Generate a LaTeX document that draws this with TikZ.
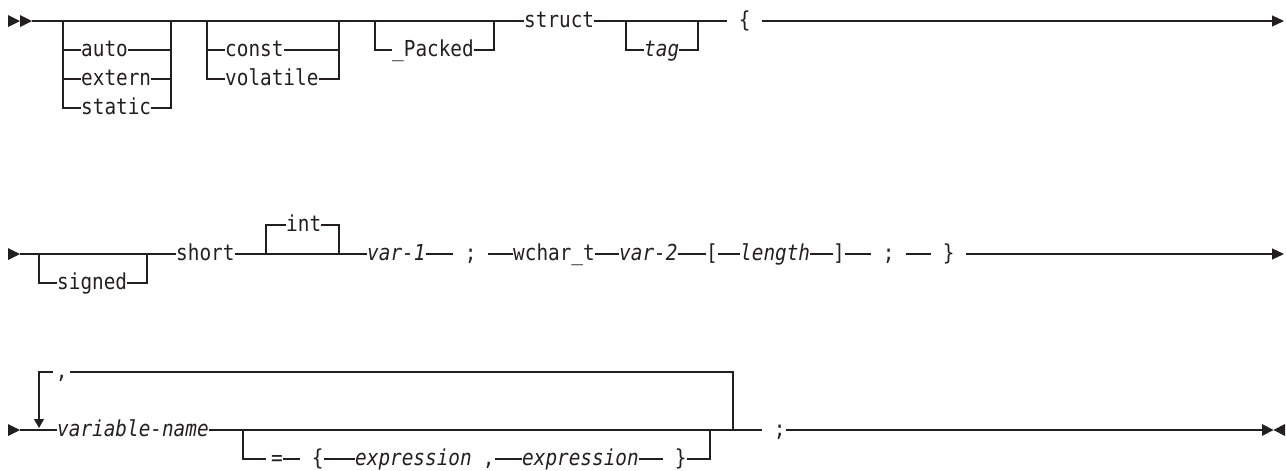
\documentclass[tikz,border=0pt]{standalone}
\usepackage{fontspec}
\usetikzlibrary{arrows.meta}
\newfontfamily\rrfont{DejaVu Sans Mono}[FakeStretch=0.88]
\definecolor{ink}{HTML}{231F20}
\newcommand\rrgap{\phantom{x}}
\tikzset{
  rail/.style={draw=ink, line width=1.1pt},
  kw/.style={font=\rrfont\fontsize{22}{25}\selectfont, text=ink, inner sep=0pt,
    text height=13pt, text depth=0pt, anchor=west},
  var/.style={kw, font=\rrfont\fontsize{22}{25}\selectfont\itshape},
  tip/.style={-{Triangle[length=12pt,width=11pt]}},
}

\begin{document}
\begin{tikzpicture}[x=1pt,y=-1pt]
  \useasboundingbox (0,0) rectangle (1286,471);

  % first line: storage class, qualifiers, struct tag
  \fill[ink] (8,15) -- (20,21) -- (8,27) -- cycle;
  \fill[ink] (20,15) -- (32,21) -- (20,27) -- cycle;
  \coordinate (s1) at (32,21);
  \coordinate (e1) at (1284,21);
  \node[kw] (auto) at (81,50) {auto};
  \node[kw] (extern) at (81,79) {extern};
  \node[kw] (static) at (81,108) {static};
  \node[kw] (const) at (225,50) {const};
  \node[kw] (volatile) at (225,79) {volatile};
  \node[kw] (packed) at (392,50) {\_Packed};
  \node[kw] (struct) at (524,21) {struct};
  \node[var] (tag) at (644,50) {tag};
  \node[kw] (lbrace) at (727,21) {\rrgap\{\rrgap};

  \draw[rail] (s1) -- (struct.west);
  \draw[rail] (63,21) |- (static.west);
  \draw[rail] (63,50) -- (auto.west);
  \draw[rail] (63,79) -- (extern.west);
  \draw[rail] (auto.east) -- (171,50);
  \draw[rail] (extern.east) -- (171,79);
  \draw[rail] (static.east) -| (171,21);
  \draw[rail] (207,21) |- (volatile.west);
  \draw[rail] (207,50) -- (const.west);
  \draw[rail] (const.east) -- (339,50);
  \draw[rail] (volatile.east) -| (339,21);
  \draw[rail] (375,21) |- (packed.west);
  \draw[rail] (packed.east) -| (494,21);
  \draw[rail] (struct.east) -- (lbrace.west);
  \draw[rail] (626,21) |- (tag.west);
  \draw[rail] (tag.east) -| (698,21);
  \draw[rail,tip] (lbrace.east) -- (e1);

  % second line: members
  \fill[ink] (8,248) -- (20,254) -- (8,260) -- cycle;
  \coordinate (s2) at (20,254);
  \coordinate (e2) at (1284,254);
  \node[kw] (signed) at (57,283) {signed};
  \node[kw] (short) at (176,254) {short};
  \node[kw] (int) at (286,225) {int};
  \node[var] (var1) at (367,254) {var-1};
  \node[kw] (semi1) at (453,254) {\rrgap;\rrgap};
  \node[kw] (wchar) at (513,254) {wchar\_t};
  \node[var] (var2) at (619,254) {var-2};
  \node[kw] (lbrack) at (706,254) {[};
  \node[var] (length) at (740,254) {length};
  \node[kw] (rbrack) at (833,254) {]};
  \node[kw] (semi2) at (871,254) {\rrgap;\rrgap};
  \node[kw] (rbrace) at (931,254) {\rrgap\}\rrgap};

  \draw[rail] (s2) -- (short.west);
  \draw[rail] (39,254) |- (signed.west);
  \draw[rail] (signed.east) -| (147,254);
  \draw[rail] (short.east) -- (var1.west);
  \draw[rail] (266,254) |- (int.west);
  \draw[rail] (int.east) -| (339,254);
  \draw[rail] (var1.east) -- (semi1.west);
  \draw[rail] (semi1.east) -- (wchar.west);
  \draw[rail] (wchar.east) -- (var2.west);
  \draw[rail] (var2.east) -- (lbrack.west);
  \draw[rail] (lbrack.east) -- (length.west);
  \draw[rail] (length.east) -- (rbrack.west);
  \draw[rail] (rbrack.east) -- (semi2.west);
  \draw[rail] (semi2.east) -- (rbrace.west);
  \draw[rail,tip] (rbrace.east) -- (e2);

  % third line: declarators with initializer
  \fill[ink] (8,424) -- (20,430) -- (8,436) -- cycle;
  \coordinate (s3) at (20,430);
  \coordinate (e3) at (1262,430);
  \coordinate (loopL) at (39,430);
  \coordinate (loopR) at (733,430);
  \coordinate (lowL) at (243,430);
  \coordinate (lowR) at (710,430);
  \node[var] (varname) at (57,430) {variable-name};
  \node[kw, minimum width=17pt] (comma) at (53,372) {,};
  \node[kw] (eq) at (271,459) {=};
  \node[kw] (lbrace2) at (300,459) {\rrgap\{};
  \node[var] (expr1) at (355,459) {expression};
  \node[kw] (comma2) at (471,459) {\rrgap,};
  \node[var] (expr2) at (522,459) {expression};
  \node[kw] (rbrace2) at (663,459) {\rrgap\}};
  \node[kw] (semi3) at (762,430) {\rrgap;};

  \draw[rail] (s3) -- (varname.west);
  \draw[rail] (varname.east) -- (semi3.west);
  \draw[rail] (loopR) |- (comma.east);
  \draw[rail,-{Triangle[length=9pt,width=10pt]}] (comma.west) -| ([yshift=2pt]loopL);
  \draw[rail] (lowL) |- ([xshift=-5pt]eq.west);
  \draw[rail] (eq.east) -- (lbrace2.west);
  \draw[rail] (lbrace2.east) -- (expr1.west);
  \draw[rail] (comma2.east) -- (expr2.west);
  \draw[rail] (expr2.east) -- (rbrace2.west);
  \draw[rail] (rbrace2.east) -| (lowR);
  \draw[rail] (semi3.east) -- (e3);
  \fill[ink] (1262,424) -- (1273.5,430) -- (1262,436) -- cycle;
  \fill[ink] (1285,424) -- (1273.5,430) -- (1285,436) -- cycle;
\end{tikzpicture}
\end{document}
